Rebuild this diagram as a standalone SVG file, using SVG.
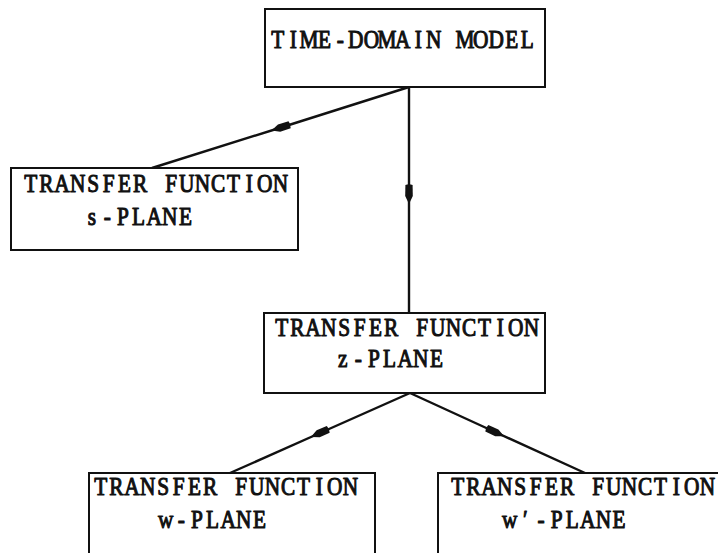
<svg xmlns="http://www.w3.org/2000/svg" width="718" height="553" viewBox="0 0 718 553">
  <style>
    .box { fill: #ffffff; stroke: #111111; stroke-width: 2; }
    /* typewriter-style labels: serif glyphs set on a fixed 15.6px cell grid */
    .lbl { font-family: "Liberation Serif", "Times New Roman", serif; font-size: 26px; text-anchor: middle; fill: #111111; stroke: #111111; stroke-width: 1.1; stroke-linejoin: round; }
    .wire { fill: none; stroke: #111111; stroke-width: 2.4; marker-mid: url(#flow); }
  </style>
  <defs>
    <!-- slim filled arrowhead placed at the middle of each connector -->
    <marker id="flow" markerUnits="userSpaceOnUse" markerWidth="26" markerHeight="14" viewBox="-13 -7 26 14" refX="0" refY="0" orient="auto">
      <path d="M-9,-3.6 L2,-3.8 L10,0 L2,3.8 L-9,3.6 Q-10.5,0 -9,-3.6 Z" fill="#111111"/>
    </marker>
  </defs>
  <rect width="718" height="553" fill="#ffffff"/>

  <g id="connectors">
    <path class="wire" d="M409,87 L281,127.5 L152,168"/>
    <path class="wire" d="M409,87 L409,194 L409,313"/>
    <path class="wire" d="M410,393 L320,433 L230,473"/>
    <path class="wire" d="M410,393 L495,432 L585,473"/>
  </g>

  <g id="time-domain-model">
    <rect class="box" x="265" y="9" width="280" height="78"/>
    <text class="lbl" transform="translate(270,48) scale(0.82,1)" x="9.51 28.54 47.56 66.59 85.61 104.63 123.66 142.68 161.71 180.73 199.76 218.78 237.8 256.83 275.85 294.88 313.9">TIME-DOMAIN MODEL</text>
  </g>

  <g id="tf-s-plane">
    <rect class="box" x="11" y="168" width="287" height="82"/>
    <text class="lbl" transform="translate(23,192) scale(0.82,1)" x="9.51 28.54 47.56 66.59 85.61 104.63 123.66 142.68 161.71 180.73 199.76 218.78 237.8 256.83 275.85 294.88 313.9">TRANSFER FUNCTION</text>
    <text class="lbl" transform="translate(84,225) scale(0.82,1)" x="9.51 28.54 47.56 66.59 85.61 104.63 123.66">s-PLANE</text>
  </g>

  <g id="tf-z-plane">
    <rect class="box" x="264" y="313" width="281" height="80"/>
    <text class="lbl" transform="translate(274,336) scale(0.82,1)" x="9.51 28.54 47.56 66.59 85.61 104.63 123.66 142.68 161.71 180.73 199.76 218.78 237.8 256.83 275.85 294.88 313.9">TRANSFER FUNCTION</text>
    <text class="lbl" transform="translate(335,367) scale(0.82,1)" x="9.51 28.54 47.56 66.59 85.61 104.63 123.66">z-PLANE</text>
  </g>

  <g id="tf-w-plane">
    <rect class="box" x="89" y="473" width="286" height="100"/>
    <text class="lbl" transform="translate(93,495) scale(0.82,1)" x="9.51 28.54 47.56 66.59 85.61 104.63 123.66 142.68 161.71 180.73 199.76 218.78 237.8 256.83 275.85 294.88 313.9">TRANSFER FUNCTION</text>
    <text class="lbl" transform="translate(158,528) scale(0.82,1)" x="9.51 28.54 47.56 66.59 85.61 104.63 123.66">w-PLANE</text>
  </g>

  <g id="tf-w-prime-plane">
    <rect class="box" x="438" y="473" width="300" height="100"/>
    <text class="lbl" transform="translate(450,495) scale(0.82,1)" x="9.51 28.54 47.56 66.59 85.61 104.63 123.66 142.68 161.71 180.73 199.76 218.78 237.8 256.83 275.85 294.88 313.9">TRANSFER FUNCTION</text>
    <text class="lbl" transform="translate(502,528) scale(0.82,1)" x="9.51 28.54 47.56 66.59 85.61 104.63 123.66 142.68">w′-PLANE</text>
  </g>
</svg>
